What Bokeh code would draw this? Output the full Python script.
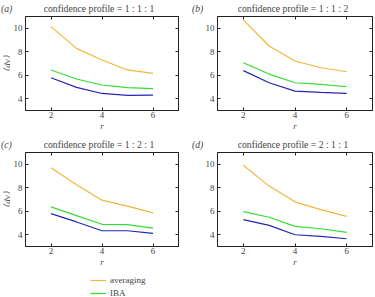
import math
from bokeh.plotting import figure
from bokeh.layouts import column, row
from bokeh.models import LinearAxis, Range1d, Label, Legend, LegendItem, FixedTicker
from bokeh.embed import file_html
from bokeh.resources import INLINE

r_vals = [2, 3, 4, 5, 6]
x_ticks = [2, 4, 6]
y_ticks = [4, 6, 8, 10]
profiles = ["1 : 1 : 1", "1 : 1 : 2", "1 : 2 : 1", "2 : 1 : 1"]
panel_labels = ["(a)", "(b)", "(c)", "(d)"]
y_label = "\u27e8dv\u27e9"
x_label = "r"

averaging_a = [10.14, 8.29, 7.30, 6.45, 6.16]
iba_a = [6.45, 5.68, 5.17, 4.94, 4.86]
third_a = [5.79, 4.97, 4.45, 4.28, 4.31]

averaging_b = [10.71, 8.49, 7.21, 6.64, 6.30]
iba_b = [7.07, 6.10, 5.36, 5.22, 5.02]
third_b = [6.39, 5.36, 4.65, 4.54, 4.45]

averaging_c = [9.71, 8.25, 6.94, 6.43, 5.86]
iba_c = [6.37, 5.63, 4.89, 4.86, 4.57]
third_c = [5.80, 5.09, 4.34, 4.34, 4.11]

averaging_d = [9.91, 8.14, 6.80, 6.14, 5.57]
iba_d = [5.97, 5.49, 4.71, 4.51, 4.20]
third_d = [5.29, 4.80, 4.00, 3.86, 3.66]

series = [
    (averaging_a, iba_a, third_a),
    (averaging_b, iba_b, third_b),
    (averaging_c, iba_c, third_c),
    (averaging_d, iba_d, third_d),
]
legend_labels = ["averaging", "IBA"]

X_MIN, X_MAX = 1, 7
Y_MIN, Y_MAX = 3, 11

C_AVG = "#f2b63c"
C_IBA = "#33dd33"
C_THIRD = "#2626b4"
FONT = "Liberation Serif"
FS = "9px"
TFS = "9.7px"

FRAME_W = 155
STRIP_H = 15
PANEL_H = 121
TOP_B = 1
BOTTOM_B = 26
YLAB_W = 10


def style_axis(ax, show_labels=True, standoff=2, label_standoff=0):
    ax.major_tick_in = 3
    ax.major_tick_out = 0
    ax.minor_tick_line_color = None
    ax.axis_line_color = "#222222"
    ax.major_tick_line_color = "#222222"
    ax.major_label_text_font = FONT
    ax.major_label_text_font_size = FS
    ax.major_label_standoff = standoff if show_labels else 0
    if not show_labels:
        ax.major_label_overrides = {t: "" for t in ax.ticker.ticks}
    ax.axis_label_text_font = FONT
    ax.axis_label_text_font_size = FS
    ax.axis_label_text_font_style = "italic"
    ax.axis_label_standoff = label_standoff


def blank_fig(width, height):
    f = figure(width=width, height=height, output_backend="svg", toolbar_location=None,
               min_border=0, x_axis_location=None, y_axis_location=None,
               x_range=Range1d(0, 1), y_range=Range1d(0, 1))
    f.grid.visible = False
    f.outline_line_color = None
    return f


def make_strip(i, left_b, width, label_x):
    s = blank_fig(width, STRIP_H)
    s.add_layout(Label(x=label_x, y=STRIP_H - 8, x_units="screen", y_units="screen",
                       text=panel_labels[i], text_font=FONT, text_font_size=TFS,
                       text_font_style="italic", text_baseline="middle",
                       text_align="left"))
    s.add_layout(Label(x=left_b + FRAME_W / 2 - 2, y=STRIP_H - 8, x_units="screen",
                       y_units="screen", text="confidence profile = " + profiles[i],
                       text_font=FONT, text_font_size=TFS, text_baseline="middle",
                       text_align="center"))
    return s


def make_ylabel():
    f = figure(width=YLAB_W, height=PANEL_H, output_backend="svg", toolbar_location=None,
               min_border_left=0, min_border_right=0, min_border_top=TOP_B,
               min_border_bottom=BOTTOM_B, x_axis_location=None, y_axis_location=None,
               x_range=Range1d(0, YLAB_W), y_range=Range1d(Y_MIN, Y_MAX))
    f.grid.visible = False
    f.outline_line_color = None
    f.add_layout(Label(x=6, y=(Y_MIN + Y_MAX) / 2, text=y_label, angle=math.pi / 2,
                       text_font=FONT, text_font_size=FS, text_font_style="italic",
                       text_baseline="middle", text_align="center"))
    return f


def make_panel(i, left_b, right_b, width):
    p = figure(width=width, height=PANEL_H, output_backend="svg", toolbar_location=None,
               x_range=Range1d(X_MIN, X_MAX), y_range=Range1d(Y_MIN, Y_MAX),
               min_border_left=left_b, min_border_right=right_b,
               min_border_top=TOP_B, min_border_bottom=BOTTOM_B)
    avg, iba, third = series[i]
    p.line(r_vals, avg, color=C_AVG, line_width=1.2)
    p.line(r_vals, iba, color=C_IBA, line_width=1.2)
    p.line(r_vals, third, color=C_THIRD, line_width=1.2)
    p.grid.visible = False
    p.outline_line_color = "#222222"
    p.xaxis.ticker = FixedTicker(ticks=x_ticks)
    p.yaxis.ticker = FixedTicker(ticks=y_ticks)
    p.xaxis.axis_label = x_label
    style_axis(p.xaxis[0], True, 1, 0)
    style_axis(p.yaxis[0], True, 3, 0)
    top = LinearAxis(ticker=FixedTicker(ticks=x_ticks))
    rgt = LinearAxis(ticker=FixedTicker(ticks=y_ticks))
    style_axis(top, False)
    style_axis(rgt, False)
    p.add_layout(top, "above")
    p.add_layout(rgt, "right")
    p.background_fill_color = "white"
    p.border_fill_color = "white"
    return p


LA, RA, WA = 23, 12, 190
LB, RB, WB = 27, 3, 185

sa = make_strip(0, LA, WA, 0.5)
sb = make_strip(1, LB, WB, 1.5)
sc = make_strip(2, LA, WA, 0.5)
sd = make_strip(3, LB, WB, 1.5)
pa = make_panel(0, LA - YLAB_W, RA, WA - YLAB_W)
pb = make_panel(1, LB, RB, WB)
pc = make_panel(2, LA - YLAB_W, RA, WA - YLAB_W)
pd = make_panel(3, LB, RB, WB)

pl = figure(width=375, height=25, output_backend="svg", toolbar_location=None,
            min_border=0, x_range=Range1d(100, 101), y_range=Range1d(100, 101))
pl.axis.visible = False
pl.grid.visible = False
pl.outline_line_color = None
r1 = pl.line(r_vals, averaging_a, color=C_AVG, line_width=1.2)
r2 = pl.line(r_vals, iba_a, color=C_IBA, line_width=1.2)
leg = Legend(items=[LegendItem(label=legend_labels[0], renderers=[r1]),
                    LegendItem(label=legend_labels[1], renderers=[r2])],
             location=(90, -2), padding=0, margin=0, spacing=1,
             glyph_width=16, glyph_height=12, label_height=12, label_standoff=4,
             label_text_font=FONT, label_text_font_size=FS,
             border_line_color=None, background_fill_alpha=0)
pl.add_layout(leg)

layout = column(row(sa, sb), row(make_ylabel(), pa, pb), row(sc, sd),
                row(make_ylabel(), pc, pd), pl)
open("out.html", "w").write(file_html(layout, INLINE))
